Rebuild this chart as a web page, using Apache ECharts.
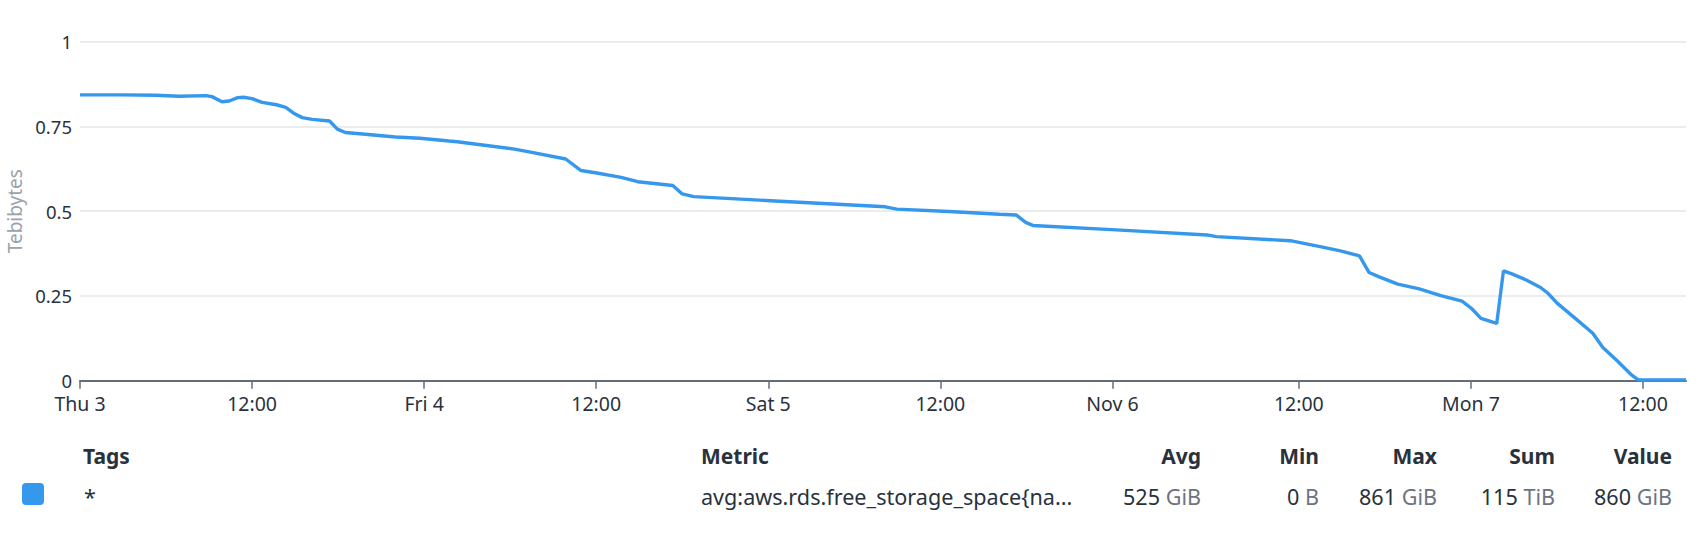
<!DOCTYPE html>
<html>
<head>
<meta charset="utf-8">
<script src="https://cdn.jsdelivr.net/npm/echarts@6/dist/echarts.min.js"></script>
<style>
  html, body { margin: 0; padding: 0; background: #fff; }
  #wrap { position: relative; width: 1700px; height: 548px; overflow: hidden; font-family: "Noto Sans", sans-serif; }
  #chart { position: absolute; left: 0; top: 0; width: 1700px; height: 548px; }
  .t { position: absolute; white-space: nowrap; font-size: 21.6px; line-height: 26px; color: #28323d; }
  .h { font-weight: 700; font-size: 21px; }
  .r { text-align: right; }
  .u { color: #6b7480; }
  #sw { position: absolute; left: 22px; top: 483px; width: 22px; height: 22px; border-radius: 4px; background: #3598ec; }
</style>
</head>
<body>
<div id="wrap">
  <div id="chart"></div>
  <div id="table"></div>
</div>
<script>
// hours since Thu 3 00:00 (local), and free storage in TiB
const hours = [0, 3, 5.3, 6.9, 8.8, 9.2, 9.9, 10.4, 11.0, 11.4, 12.0, 12.7, 13.7, 14.35, 14.9, 15.5, 16.2, 17.4, 17.95, 18.5,
  19.9, 22.0, 23.7, 25.75, 26.3, 30.3, 31.6, 33.87, 34.94, 36.14, 37.74, 38.9, 41.34, 42.0, 42.8, 48.15, 56.16, 56.96,
  60.6, 64.12, 65.28, 65.95, 66.45, 72.27, 78.6, 79.25, 84.4, 86.57, 87.9, 89.23, 89.9, 90.56, 91.9, 93.4, 94.9, 96.38,
  97.05, 97.7, 98.8, 99.27, 99.86, 100.86, 101.86, 102.37, 103.03, 104.3, 105.5, 106.2, 107.2, 108.2, 108.7, 112];
const values = [0.843, 0.843, 0.842, 0.839, 0.841, 0.838, 0.823, 0.825, 0.835, 0.836, 0.832, 0.821, 0.814, 0.806, 0.789, 0.776, 0.771, 0.766, 0.742, 0.732,
  0.727, 0.719, 0.715, 0.707, 0.705, 0.683, 0.673, 0.654, 0.620, 0.612, 0.600, 0.587, 0.576, 0.551, 0.543, 0.531, 0.513, 0.506,
  0.499, 0.491, 0.489, 0.467, 0.458, 0.445, 0.430, 0.425, 0.413, 0.395, 0.383, 0.368, 0.319, 0.307, 0.285, 0.271, 0.251, 0.235,
  0.213, 0.184, 0.169, 0.324, 0.315, 0.297, 0.275, 0.258, 0.228, 0.183, 0.140, 0.098, 0.059, 0.017, 0.002, 0.002];
// x tick positions (hours) and labels (DST ends on Nov 6, so that day has 25 h)
const tickHours = [0, 12, 24, 36, 48, 60, 72, 85, 97, 109];
const tickLabels = ["Thu 3", "12:00", "Fri 4", "12:00", "Sat 5", "12:00", "Nov 6", "12:00", "Mon 7", "12:00"];
const yTicks = [0, 0.25, 0.5, 0.75, 1];
const yName = "Tebibytes";
const seriesColor = "#3598ec";
// legend table
const tableHeaders = ["Tags", "Metric", "Avg", "Min", "Max", "Sum", "Value"];
const rowTag = "*";
const rowMetric = "avg:aws.rds.free_storage_space{na...";
const statNums = ["525", "0", "861", "115", "860"];
const statUnits = ["GiB", "B", "GiB", "TiB", "GiB"];

const chart = echarts.init(document.getElementById('chart'), null, { renderer: 'svg' });
const labelMap = {};
tickHours.forEach((h, i) => { labelMap[h] = tickLabels[i]; });
chart.setOption({
  animation: false,
  grid: { left: 80, right: 14, top: 41.7, bottom: 167.3, containLabel: false, outerBoundsMode: 'none' },
  xAxis: {
    type: 'value', min: 0, max: 112,
    axisLine: { show: true, lineStyle: { color: '#646b7b', width: 2 } },
    axisTick: { show: true, length: 8, lineStyle: { color: '#646b7b', width: 1.5 }, customValues: tickHours },
    axisLabel: { customValues: tickHours, formatter: v => labelMap[v] ?? '', color: '#28323d', fontSize: 19.5, lineHeight: 18, fontFamily: 'Noto Sans', margin: 14, hideOverlap: false },
    splitLine: { show: false }
  },
  yAxis: {
    type: 'value', min: 0, max: 1, interval: 0.25,
    name: yName, nameLocation: 'middle', nameRotate: 90, nameGap: 56,
    nameTextStyle: { color: '#9aa2ac', fontSize: 19, lineHeight: 18, fontFamily: 'Noto Sans' },
    axisLine: { show: false }, axisTick: { show: false },
    axisLabel: { color: '#28323d', fontSize: 18.5, lineHeight: 16, fontFamily: 'Noto Sans', margin: 8, formatter: v => String(v) },
    splitLine: { lineStyle: { color: '#e6e6e6', width: 1.5 } }
  },
  series: [{
    type: 'line', data: hours.map((h, i) => [h, values[i]]),
    showSymbol: false, lineStyle: { color: seriesColor, width: 3.4 }, itemStyle: { color: seriesColor }
  }]
});

// table (real text)
const tbl = document.getElementById('table');
function addText(txt, cls, x, y, right) {
  const d = document.createElement('div');
  d.className = 't ' + cls;
  d.textContent = txt;
  d.style.top = y + 'px';
  if (right) { d.style.right = (1700 - x) + 'px'; d.classList.add('r'); } else { d.style.left = x + 'px'; }
  tbl.appendChild(d);
  return d;
}
const headY = 443, rowY = 484;
const leftCols = [83, 701];
const rightCols = [1201, 1319, 1437, 1555, 1672];
addText(tableHeaders[0], 'h', leftCols[0], headY, false);
addText(tableHeaders[1], 'h', leftCols[1], headY, false);
for (let i = 0; i < 5; i++) addText(tableHeaders[i + 2], 'h', rightCols[i], headY, true);
const sw = document.createElement('div'); sw.id = 'sw'; tbl.appendChild(sw);
addText(rowTag, '', leftCols[0] + 1, rowY, false);
addText(rowMetric, '', leftCols[1], rowY, false);
for (let i = 0; i < 5; i++) {
  const d = addText('', '', rightCols[i], rowY, true);
  d.innerHTML = statNums[i] + ' <span class="u">' + statUnits[i] + '</span>';
}
</script>
</body>
</html>
